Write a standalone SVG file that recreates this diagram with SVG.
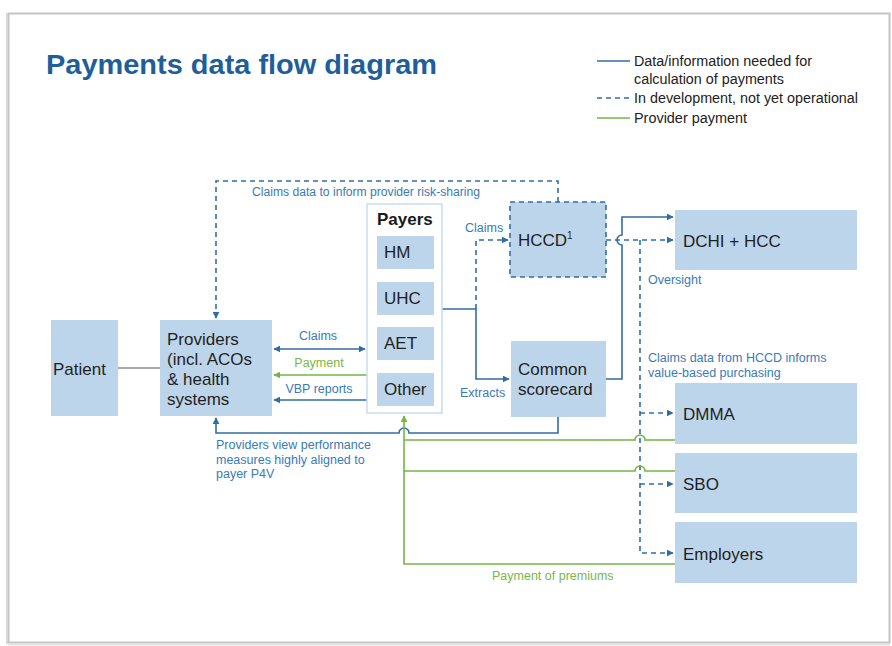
<svg xmlns="http://www.w3.org/2000/svg" width="892" height="646" viewBox="0 0 892 646">
<defs>
<marker id="ab" viewBox="0 0 10 10" refX="9" refY="5" markerWidth="7" markerHeight="7" orient="auto-start-reverse" markerUnits="userSpaceOnUse"><path d="M0,0 L10,5 L0,10 z" fill="#2f6ea5"/></marker>
<marker id="ag" viewBox="0 0 10 10" refX="9" refY="5" markerWidth="7" markerHeight="7" orient="auto-start-reverse" markerUnits="userSpaceOnUse"><path d="M0,0 L10,5 L0,10 z" fill="#76b543"/></marker>
<style>
text{font-family:"Liberation Sans",Arial,sans-serif}
.node{fill:#bdd5ea}
.nt{font-size:17px;fill:#1f1f1f}
.lbl{font-size:12.5px;fill:#3a7ab8}
.glbl{font-size:12.5px;fill:#7ab648}
.leg{font-size:14px;fill:#222}
.sb{fill:none;stroke:#2f6ea5;stroke-width:1.6}
.db{fill:none;stroke:#2f6ea5;stroke-width:1.6;stroke-dasharray:5,4}
.gr{fill:none;stroke:#76b543;stroke-width:1.6}
</style>
</defs>
<rect x="0" y="0" width="892" height="646" fill="#ffffff"/>
<!-- slide frame -->
<rect x="8.5" y="13.5" width="881" height="629" fill="#ffffff" stroke="#c4c4c4" stroke-width="2"/>
<line x1="7" y1="13" x2="7" y2="644" stroke="#d8d8d8" stroke-width="2"/>
<line x1="8" y1="644.5" x2="890" y2="644.5" stroke="#e2e2e2" stroke-width="2"/>

<g id="title">
<text x="46" y="74" font-size="28" font-weight="bold" fill="#1f5f99" textLength="391" lengthAdjust="spacingAndGlyphs">Payments data flow diagram</text>
</g>

<g id="legend">
<line x1="597" y1="61" x2="630" y2="61" class="sb"/>
<text x="634" y="66" class="leg" textLength="178" lengthAdjust="spacingAndGlyphs">Data/information needed for</text>
<text x="634" y="84" class="leg" textLength="150" lengthAdjust="spacingAndGlyphs">calculation of payments</text>
<line x1="597" y1="98" x2="630" y2="98" class="db"/>
<text x="634" y="103" class="leg" textLength="224" lengthAdjust="spacingAndGlyphs">In development, not yet operational</text>
<line x1="597" y1="118" x2="630" y2="118" class="gr"/>
<text x="634" y="123" class="leg" textLength="113" lengthAdjust="spacingAndGlyphs">Provider payment</text>
</g>

<g id="connectors">
<!-- patient - providers -->
<line x1="118" y1="368" x2="160" y2="368" stroke="#555" stroke-width="1.2"/>
<!-- claims data to inform provider risk-sharing -->
<path d="M558,202 V181 H216 V318" class="db" marker-end="url(#ab)"/>
<text x="252" y="196" class="lbl" textLength="228" lengthAdjust="spacingAndGlyphs">Claims data to inform provider risk-sharing</text>
<!-- claims double arrow -->
<line x1="274" y1="349" x2="365" y2="349" class="sb" marker-start="url(#ab)" marker-end="url(#ab)"/>
<text x="318" y="340" class="lbl" text-anchor="middle">Claims</text>
<!-- payment -->
<line x1="367" y1="375" x2="274" y2="375" class="gr" marker-end="url(#ag)"/>
<text x="319" y="367" class="glbl" text-anchor="middle">Payment</text>
<!-- VBP reports -->
<line x1="367" y1="400" x2="274" y2="400" class="sb" marker-end="url(#ab)"/>
<text x="319" y="393" class="lbl" text-anchor="middle">VBP reports</text>
<!-- payers to scorecard / HCCD -->
<path d="M442,309 H476 V379 H509" class="sb" marker-end="url(#ab)"/>
<path d="M476,309 V240 H508" class="db" marker-end="url(#ab)"/>
<text x="465" y="232" class="lbl">Claims</text>
<text x="460" y="397" class="lbl">Extracts</text>
<!-- scorecard to DCHI -->
<path d="M606,379 H622 V245 A5,5 0 0,1 622,235 V217 H673" class="sb" marker-end="url(#ab)"/>
<!-- HCCD to DCHI -->
<line x1="606" y1="240" x2="673" y2="240" class="db" marker-end="url(#ab)"/>
<text x="648" y="284" class="lbl">Oversight</text>
<!-- HCCD dashed to DMMA/SBO/Employers -->
<path d="M640,240 V553 H673" class="db" marker-end="url(#ab)"/>
<path d="M640,413 H673" class="db" marker-end="url(#ab)"/>
<path d="M640,484 H673" class="db" marker-end="url(#ab)"/>
<text x="648" y="362" class="lbl">Claims data from HCCD informs</text>
<text x="648" y="377" class="lbl">value-based purchasing</text>
<!-- scorecard to providers -->
<path d="M558,417 V433 H409 A5,5 0 0,0 399,433 H216 V418" class="sb" marker-end="url(#ab)"/>
<text x="216" y="449" class="lbl">Providers view performance</text>
<text x="216" y="464" class="lbl">measures highly aligned to</text>
<text x="216" y="478" class="lbl">payer P4V</text>
<!-- premiums -->
<path d="M675,564 H404 V416" class="gr" marker-end="url(#ag)"/>
<path d="M404,440 H635 A5,5 0 0,1 645,440 H675" class="gr"/>
<path d="M404,471 H635 A5,5 0 0,1 645,471 H675" class="gr"/>
<text x="492" y="580" class="glbl">Payment of premiums</text>
</g>

<g id="patient">
<rect x="51" y="320" width="67" height="96" class="node"/>
<text x="53" y="375" class="nt">Patient</text>
</g>
<g id="providers">
<rect x="160" y="320" width="112" height="96" class="node"/>
<text x="167" y="345" class="nt">Providers</text>
<text x="167" y="365" class="nt">(incl. ACOs</text>
<text x="167" y="385" class="nt">&amp; health</text>
<text x="167" y="405" class="nt">systems</text>
</g>
<g id="payers">
<rect x="367" y="204" width="75" height="209" fill="#ffffff" stroke="#c9ddef" stroke-width="1.5"/>
<text x="377" y="225" font-size="17" font-weight="bold" fill="#1a1a1a">Payers</text>
<rect x="377" y="236" width="57" height="33" class="node"/>
<text x="384" y="258" class="nt">HM</text>
<rect x="377" y="282" width="57" height="33" class="node"/>
<text x="384" y="304" class="nt">UHC</text>
<rect x="377" y="327" width="57" height="33" class="node"/>
<text x="384" y="349" class="nt">AET</text>
<rect x="377" y="373" width="57" height="33" class="node"/>
<text x="384" y="395" class="nt">Other</text>
</g>
<g id="hccd">
<rect x="510" y="202" width="96" height="75" class="node" stroke="#2f6ea5" stroke-width="1.6" stroke-dasharray="5,4"/>
<text x="518" y="246" class="nt">HCCD<tspan font-size="10" dy="-7">1</tspan></text>
</g>
<g id="dchi">
<rect x="675" y="210" width="182" height="60" class="node"/>
<text x="683" y="247" class="nt">DCHI + HCC</text>
</g>
<g id="scorecard">
<rect x="511" y="341" width="95" height="76" class="node"/>
<text x="518" y="375" class="nt">Common</text>
<text x="518" y="395" class="nt">scorecard</text>
</g>
<g id="dmma">
<rect x="675" y="383" width="182" height="61" class="node"/>
<text x="683" y="420" class="nt">DMMA</text>
</g>
<g id="sbo">
<rect x="675" y="453" width="182" height="60" class="node"/>
<text x="683" y="490" class="nt">SBO</text>
</g>
<g id="employers">
<rect x="675" y="522" width="182" height="61" class="node"/>
<text x="683" y="560" class="nt">Employers</text>
</g>
</svg>
